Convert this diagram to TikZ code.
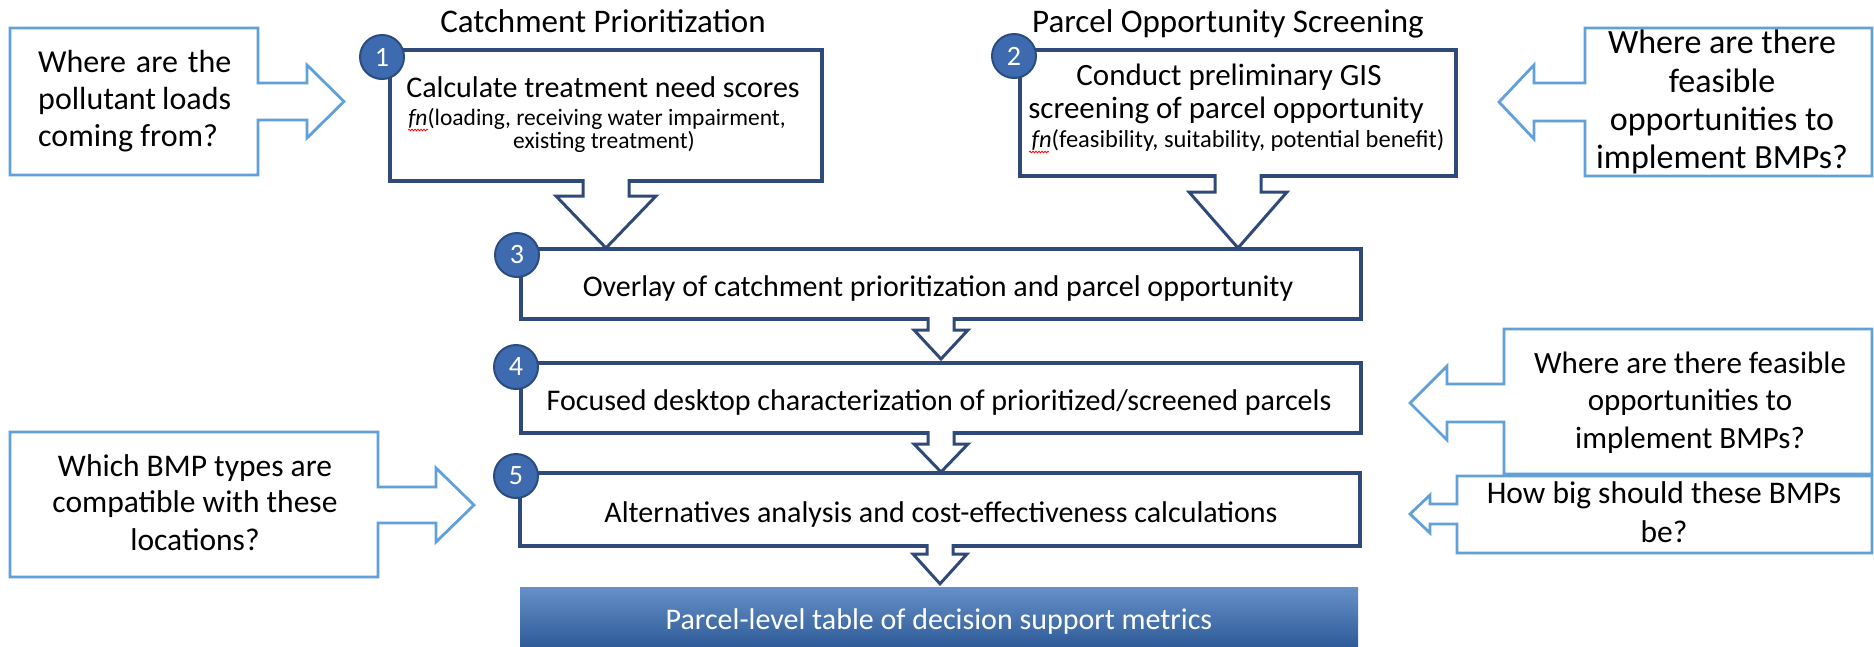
\documentclass[tikz,border=0pt]{standalone}
\usepackage{fontspec}
\setmainfont{Carlito}
\usetikzlibrary{calc,decorations.pathmorphing}
\definecolor{navy}{HTML}{2F4A78}
\definecolor{qblue}{HTML}{62A0DA}
\definecolor{numfill}{HTML}{3E6BAF}
\definecolor{numdark}{HTML}{2B4C80}
\definecolor{bartop}{HTML}{6690C8}
\definecolor{barbot}{HTML}{2D5A97}
\newcommand{\fs}[1]{\fontsize{#1}{#1}\selectfont}
\newcommand{\flowarrow}[6]{%
 \draw[arrowline] ($(#1.south)+(-#3,-2)$) -- ($(#1.south)+(-#3,#5)$) -- ($(#1.south)+(-#4,#5)$)
   -- ($(#1.south |- #2.north)+(0,-#6)$) -- ($(#1.south)+(#4,#5)$) -- ($(#1.south)+(#3,#5)$) -- ($(#1.south)+(#3,-2)$);}
\begin{document}
\begin{tikzpicture}[x=1pt,y=-1pt,
  mainbox/.style={draw=navy, line width=3.4pt, fill=white, outer sep=0pt, inner sep=0pt},
  arrowline/.style={draw=navy, line width=3pt, fill=white, line join=miter},
  qline/.style={draw=qblue, line width=2.8pt, fill=white, line join=miter},
  numc/.style={circle, fill=numfill, draw=numdark, line width=2pt, text=white, minimum size=44pt, inner sep=0pt, font=\fs{28}},
  lbl/.style={anchor=base, inner sep=0pt, text=black},
  wavy/.style={red, line width=0.8pt, decorate, decoration={snake, amplitude=0.8pt, segment length=3pt}}
]
\useasboundingbox (0,0) rectangle (1874,646);
\fill[white] (0,0) rectangle (1874,646);

% titles
\node[lbl, font=\fs{33}] (t1) at (603,32) {Catchment Prioritization};
\node[lbl, font=\fs{33}] (t2) at (1228,32) {Parcel Opportunity Screening};

% main boxes
\node[mainbox, minimum width=432pt, minimum height=131pt] (b1) at (606,115.5) {};
\node[mainbox, minimum width=436pt, minimum height=126pt] (b2) at (1238,113) {};
\node[mainbox, minimum width=840pt, minimum height=70pt] (b3) at (941,284) {};
\node[mainbox, minimum width=840pt, minimum height=70pt] (b4) at (941,398) {};
\node[mainbox, minimum width=840pt, minimum height=73pt] (b5) at (940,509.5) {};
\shade[top color=bartop, bottom color=barbot] (520,587) rectangle (1358,648);
\node[inner sep=0pt, minimum width=838pt, minimum height=61pt] (bar) at (939,617.5) {};

% box texts
\node[lbl, font=\fs{30}] (b1a) at (603,97) {Calculate treatment need scores};
\node[lbl, font=\fs{23.5}] (b1b) at (597,125) {\textit{fn}(loading, receiving water impairment,};
\node[lbl, font=\fs{23.5}] (b1c) at (604,148) {existing treatment)};
\draw[wavy] (408,130) -- (428,130);
\node[lbl, font=\fs{31}] (b2a) at (1229,85) {Conduct preliminary GIS};
\node[lbl, font=\fs{31}] (b2b) at (1226,118) {screening of parcel opportunity};
\node[lbl, font=\fs{24.5}] (b2c) at (1238,147) {\textit{fn}(feasibility, suitability, potential benefit)};
\draw[wavy] (1029,152) -- (1049,152);
\node[lbl, font=\fs{30}] (b3a) at (938,296) {Overlay of catchment prioritization and parcel opportunity};
\node[lbl, font=\fs{30}] (b4a) at (939,410) {Focused desktop characterization of prioritized/screened parcels};
\node[lbl, font=\fs{30}] (b5a) at (941,522) {Alternatives analysis and cost-effectiveness calculations};
\node[lbl, font=\fs{30}, text=white] (bara) at (939,629) {Parcel-level table of decision support metrics};

% flow arrows
\flowarrow{b1}{b3}{23}{50}{15}{1}
\flowarrow{b2}{b3}{23}{49}{16}{1}
\flowarrow{b3}{b4}{13}{27}{11}{4}
\flowarrow{b4}{b5}{13}{27}{11}{1}
\flowarrow{b5}{bar}{13}{27}{8}{3}

% step numbers
\node[numc] (n1) at (382,57) {1};
\node[numc] (n2) at (1014,56) {2};
\node[numc] (n3) at (517,255) {3};
\node[numc] (n4) at (516,367) {4};
\node[numc] (n5) at (516,476) {5};

% question callouts
\draw[qline] (10,28) -- (258,28) -- (258,83) -- (307,83) -- (307,65) -- (344,101.5) -- (307,138) -- (307,120) -- (258,120) -- (258,175) -- (10,175) -- cycle;
\node[lbl, anchor=base west, font=\fs{32}] (q1a) at (38,72) {\makebox[193pt][s]{Where are the}};
\node[lbl, anchor=base west, font=\fs{32}] (q1b) at (38,109) {\makebox[193pt][s]{pollutant loads}};
\node[lbl, anchor=base west, font=\fs{32}] (q1c) at (38,146) {coming from?};

\draw[qline] (1872,28) -- (1585,28) -- (1585,83) -- (1534,83) -- (1534,65) -- (1499,102) -- (1534,139) -- (1534,121) -- (1585,121) -- (1585,176) -- (1872,176) -- cycle;
\node[lbl, font=\fs{34}] (q2a) at (1722,53) {Where are there};
\node[lbl, font=\fs{34}] (q2b) at (1722,92) {feasible};
\node[lbl, font=\fs{34}] (q2c) at (1722,130) {opportunities to};
\node[lbl, font=\fs{34}] (q2d) at (1722,168) {implement BMPs?};

\draw[qline] (1872,329) -- (1504,329) -- (1504,384) -- (1447,384) -- (1447,366) -- (1410,403) -- (1447,440) -- (1447,422) -- (1504,422) -- (1504,474) -- (1872,474) -- cycle;
\node[lbl, font=\fs{31}] (q3a) at (1690,373) {Where are there feasible};
\node[lbl, font=\fs{31}] (q3b) at (1690,410) {opportunities to};
\node[lbl, font=\fs{31}] (q3c) at (1690,448) {implement BMPs?};

\draw[qline] (1872,476) -- (1457,476) -- (1457,504) -- (1430,504) -- (1430,495) -- (1410,514) -- (1430,533) -- (1430,524) -- (1457,524) -- (1457,553) -- (1872,553) -- cycle;
\node[lbl, font=\fs{31.5}] (q4a) at (1664,503) {How big should these BMPs};
\node[lbl, font=\fs{31.5}] (q4b) at (1664,542) {be?};

\draw[qline] (10,432) -- (378,432) -- (378,487) -- (436,487) -- (436,468) -- (474,505) -- (436,542) -- (436,523) -- (378,523) -- (378,577) -- (10,577) -- cycle;
\node[lbl, font=\fs{31.5}] (q5a) at (195,476) {Which BMP types are};
\node[lbl, font=\fs{31.5}] (q5b) at (195,512) {compatible with these};
\node[lbl, font=\fs{31.5}] (q5c) at (195,550) {locations?};
\end{tikzpicture}
\end{document}
